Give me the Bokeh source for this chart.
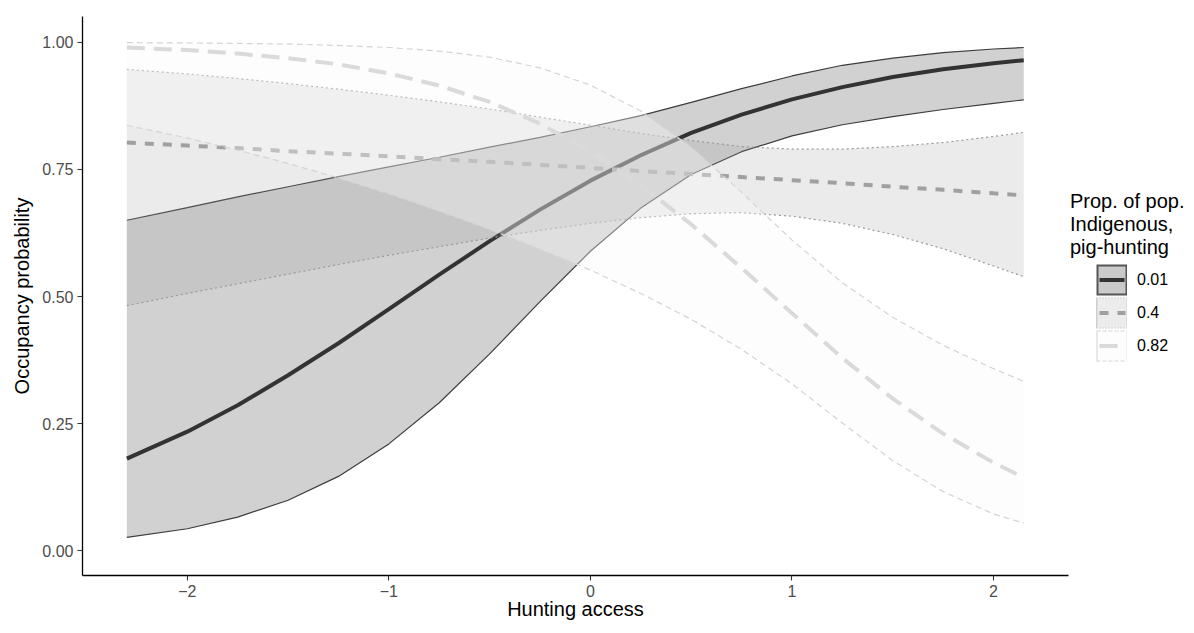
import math
from bokeh.plotting import figure
from bokeh.models import (Range1d, FixedTicker, PrintfTickFormatter, Legend, LegendItem,
                          ColumnDataSource)
from bokeh.embed import file_html
from bokeh.resources import INLINE

# ---- data ----
hunting = [-2.3, -2.0, -1.75, -1.5, -1.25, -1.0, -0.75, -0.5, -0.25, 0.0,
           0.25, 0.5, 0.75, 1.0, 1.25, 1.5, 1.75, 2.0, 2.15]

mean_001 = [0.181, 0.234, 0.286, 0.345, 0.408, 0.475, 0.543, 0.609, 0.671, 0.728,
            0.778, 0.822, 0.858, 0.888, 0.912, 0.932, 0.947, 0.959, 0.965]
upper_001 = [0.650, 0.675, 0.696, 0.716, 0.736, 0.755, 0.774, 0.794, 0.813, 0.834,
             0.856, 0.882, 0.909, 0.934, 0.955, 0.969, 0.980, 0.987, 0.990]
lower_001 = [0.026, 0.043, 0.066, 0.099, 0.146, 0.210, 0.291, 0.387, 0.490, 0.589,
             0.674, 0.740, 0.785, 0.816, 0.838, 0.854, 0.868, 0.880, 0.887]

mean_04 = [0.803, 0.797, 0.792, 0.786, 0.781, 0.776, 0.770, 0.765, 0.759, 0.753,
           0.747, 0.741, 0.735, 0.729, 0.723, 0.716, 0.710, 0.703, 0.699]
upper_04 = [0.947, 0.938, 0.929, 0.919, 0.908, 0.896, 0.883, 0.869, 0.853, 0.837,
            0.821, 0.807, 0.795, 0.790, 0.790, 0.795, 0.803, 0.815, 0.823]
lower_04 = [0.482, 0.506, 0.525, 0.544, 0.563, 0.581, 0.598, 0.615, 0.630, 0.644,
            0.655, 0.663, 0.665, 0.658, 0.644, 0.622, 0.594, 0.560, 0.539]

mean_082 = [0.990, 0.985, 0.978, 0.969, 0.957, 0.939, 0.915, 0.883, 0.840, 0.786,
            0.719, 0.642, 0.556, 0.467, 0.379, 0.299, 0.230, 0.173, 0.144]
upper_082 = [0.9995, 0.999, 0.998, 0.997, 0.994, 0.990, 0.983, 0.971, 0.950, 0.916,
             0.865, 0.794, 0.705, 0.611, 0.527, 0.459, 0.404, 0.358, 0.333]
lower_082 = [0.837, 0.812, 0.788, 0.762, 0.733, 0.702, 0.668, 0.632, 0.593, 0.552,
             0.506, 0.455, 0.396, 0.328, 0.251, 0.177, 0.116, 0.072, 0.054]

group_labels = ["0.01", "0.4", "0.82"]
legend_title = "Prop. of pop.\nIndigenous,\npig-hunting"
x_ticks = [-2, -1, 0, 1, 2]
x_tick_labels = ["\u22122", "\u22121", "0", "1", "2"]
y_ticks = [0.0, 0.25, 0.5, 0.75, 1.0]

FONT = "Liberation Sans"

p = figure(frame_width=986, frame_height=559,
           x_range=Range1d(-2.52, 2.372), y_range=Range1d(-0.049, 1.051),
           output_backend="svg", toolbar_location=None,
           min_border_left=82, min_border_top=16, min_border_bottom=50,
           min_border_right=122)
p.xgrid.visible = False
p.ygrid.visible = False
p.outline_line_color = None
p.background_fill_color = "white"
p.border_fill_color = "white"

# legend key geometry: key cell is KEY_OFF px of blank space then a KEY px square
KEY = 31
KEY_OFF = 26


def key_dash(offset, pattern):
    return " ".join(str(v) for v in [0, offset] + pattern + [100])


styles = [
    dict(mean=mean_001, up=upper_001, lo=lower_001,
         fill="#1a1a1a", fill_alpha=0.2, edge="#3d3d3d", edge_dash="solid", edge_w=1.2,
         line="#333333", line_dash="solid",
         key_fill="#cacaca", key_border="#555555", key_border_pat=[31], key_bw=2,
         key_line_pat=[25]),
    dict(mean=mean_04, up=upper_04, lo=lower_04,
         fill="#9b9b9b", fill_alpha=0.2, edge="#999999", edge_dash="2 3", edge_w=1.2,
         line="#a0a0a0", line_dash="9 9",
         key_fill="#ececec", key_border="#a0a0a0", key_border_pat=[1, 2] * 10 + [1], key_bw=1,
         key_line_pat=[9, 9, 8]),
    dict(mean=mean_082, up=upper_082, lo=lower_082,
         fill="#fafafa", fill_alpha=0.35, edge="#d4d4d4", edge_dash="6 4", edge_w=1.2,
         line="#dadada", line_dash="18 9",
         key_fill="#fdfdfd", key_border="#d4d4d4", key_border_pat=[4, 2] * 5 + [1], key_bw=1,
         key_line_pat=[18]),
]

items = []
for s, lab in zip(styles, group_labels):
    src = ColumnDataSource(dict(x=hunting, m=s["mean"], u=s["up"], l=s["lo"]))
    p.varea(x="x", y1="l", y2="u", source=src, fill_color=s["fill"], fill_alpha=s["fill_alpha"])
    p.line(x="x", y="u", source=src, line_color=s["edge"], line_dash=s["edge_dash"], line_width=s["edge_w"])
    p.line(x="x", y="l", source=src, line_color=s["edge"], line_dash=s["edge_dash"], line_width=s["edge_w"])
    p.line(x="x", y="m", source=src, line_color=s["line"], line_dash=s["line_dash"], line_width=4)

    # legend-key renderers (no visible data in the plot)
    empty = ColumnDataSource(dict(x=[math.nan], y=[math.nan]))
    bw = s["key_bw"]
    k_border = p.line(x="x", y="y", source=empty, line_color=s["key_border"],
                      line_dash=key_dash(KEY_OFF, s["key_border_pat"]), line_width=KEY)
    k_fill = p.line(x="x", y="y", source=empty, line_color=s["key_fill"],
                    line_dash=key_dash(KEY_OFF + bw, [KEY - 2 * bw]), line_width=KEY - 2 * bw)
    k_line = p.line(x="x", y="y", source=empty, line_color=s["line"],
                    line_dash=key_dash(KEY_OFF + 3, s["key_line_pat"]), line_width=4)
    items.append(LegendItem(label=lab, renderers=[k_border, k_fill, k_line]))

legend = Legend(items=items, title=legend_title, location=(2, 213),
                glyph_width=KEY_OFF + KEY, glyph_height=33,
                spacing=0, padding=0, margin=0, label_standoff=10, label_height=33,
                border_line_color=None, background_fill_alpha=0)
legend.title_text_font = FONT
legend.title_text_font_size = "20px"
legend.title_text_font_style = "normal"
legend.title_text_color = "black"
legend.title_text_line_height = 1.2
legend.title_standoff = 4
legend.label_text_font = FONT
legend.label_text_font_size = "16px"
legend.label_text_color = "black"
p.add_layout(legend, "right")

for ax in (p.xaxis[0], p.yaxis[0]):
    ax.axis_line_color = "black"
    ax.axis_line_width = 1.3
    ax.major_tick_line_color = "#333333"
    ax.major_tick_line_width = 1.1
    ax.major_tick_in = 0
    ax.major_tick_out = 5
    ax.minor_tick_line_color = None
    ax.major_label_text_font = FONT
    ax.major_label_text_font_size = "16px"
    ax.major_label_text_color = "#4d4d4d"
    ax.axis_label_text_font = FONT
    ax.axis_label_text_font_size = "20px"
    ax.axis_label_text_font_style = "normal"
    ax.axis_label_text_color = "black"

p.xaxis.ticker = FixedTicker(ticks=x_ticks)
p.xaxis.major_label_overrides = dict(zip(x_ticks, x_tick_labels))
p.xaxis.major_label_standoff = 4
p.xaxis.axis_label = "Hunting access"
p.xaxis.axis_label_standoff = -2

p.yaxis.ticker = FixedTicker(ticks=y_ticks)
p.yaxis.formatter = PrintfTickFormatter(format="%.2f")
p.yaxis.major_label_standoff = 4
p.yaxis.axis_label = "Occupancy probability"
p.yaxis.axis_label_standoff = 6

open("out.html", "w").write(file_html(p, INLINE))
